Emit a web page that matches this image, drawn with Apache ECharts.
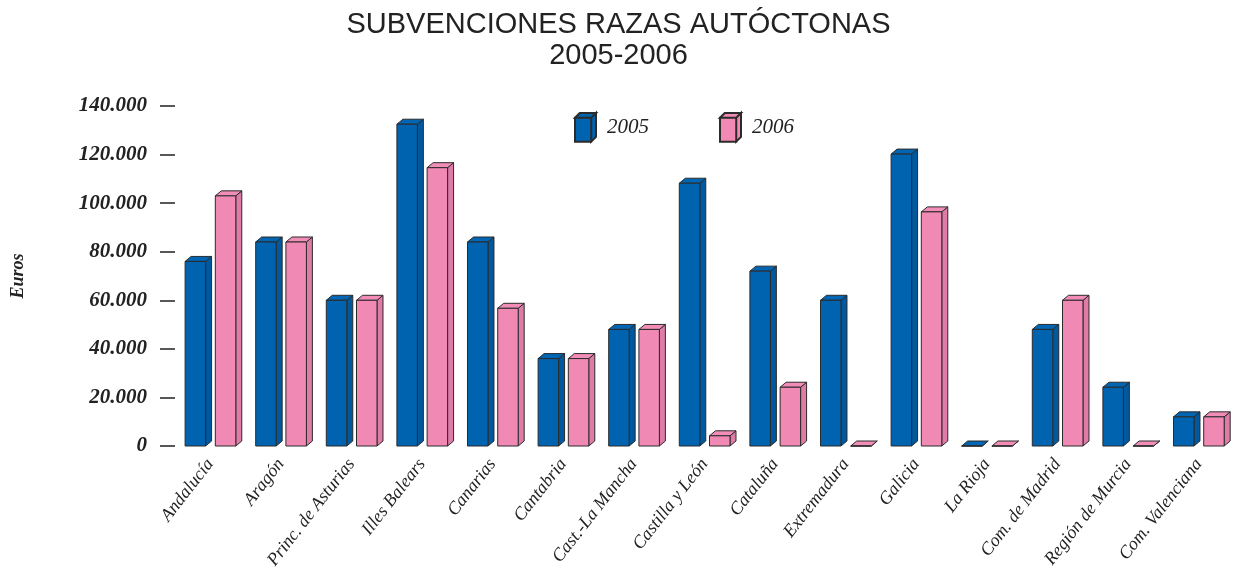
<!DOCTYPE html>
<html>
<head>
    <meta charset="utf-8">
    <title>Subvenciones razas autóctonas 2005-2006</title>
    <style>
        html, body { margin: 0; padding: 0; background: #fff; }
        #chart { width: 1237px; height: 569px; }
    </style>
</head>
<body>
<div id="chart"></div>

<script src="https://cdn.jsdelivr.net/npm/echarts@6/dist/echarts.min.js"></script>
<script>
    // datos
    var regiones = ['Andalucía', 'Aragón', 'Princ. de Asturias', 'Illes Balears', 'Canarias',
        'Cantabria', 'Cast.-La Mancha', 'Castilla y León', 'Cataluña', 'Extremadura',
        'Galicia', 'La Rioja', 'Com. de Madrid', 'Región de Murcia', 'Com. Valenciana'];
    var anios = ['2005', '2006'];
    var v2005 = [76000, 84000, 60000, 132500, 84000, 36000, 48000, 108200, 72000, 60000, 120200, 0, 48000, 24200, 12000];
    var v2006 = [103000, 84000, 60000, 114600, 56700, 36000, 48000, 4200, 24200, 0, 96400, 0, 60000, 0, 12000];
    var yTicks = [0, 20000, 40000, 60000, 80000, 100000, 120000, 140000];

    var colores = [
        { front: '#0063b0', top: '#0066b4', side: '#00589f' },
        { front: '#f189b5', top: '#f28db8', side: '#de7ca7' }
    ];
    var serif = '"Liberation Serif", "DejaVu Serif", serif';
    var boxIcon = 'path://M0 5 L17 5 L17 30 L0 30 Z M0 5 L5 0 L22 0 L17 5 Z M17 5 L22 0 L22 25 L17 30 Z';

    function fmtMiles(v) {
        return String(v).replace(/\B(?=(\d{3})+(?!\d))/g, '.');
    }

    // barra en 3D: cara frontal, tapa y lateral
    function makeRender(idx) {
        return function (params, api) {
            var cat = api.value(0);
            var top = api.coord([cat, api.value(1)]);
            var base = api.coord([cat, 0]);
            var bw = api.size([1, 0])[0];
            var w = bw * 0.29;
            var x = top[0] + (idx === 0 ? -0.357 * bw : 0.071 * bw);
            var y0 = base[1], y1 = top[1];
            var dx = 6, dy = 5;
            var c = colores[idx];
            var stroke = { stroke: '#2b2b2b', lineWidth: 1 };
            return {
                type: 'group',
                children: [
                    {
                        type: 'polygon',
                        shape: { points: [[x + w, y1], [x + w + dx, y1 - dy], [x + w + dx, y0 - dy], [x + w, y0]] },
                        style: Object.assign({ fill: c.side }, stroke)
                    },
                    {
                        type: 'polygon',
                        shape: { points: [[x, y1], [x + dx, y1 - dy], [x + w + dx, y1 - dy], [x + w, y1]] },
                        style: Object.assign({ fill: c.top }, stroke)
                    },
                    {
                        type: 'rect',
                        shape: { x: x, y: y1, width: w, height: y0 - y1 },
                        style: Object.assign({ fill: c.front }, stroke)
                    }
                ]
            };
        };
    }

    function serie(idx, vals) {
        return {
            name: anios[idx],
            type: 'custom',
            renderItem: makeRender(idx),
            itemStyle: { color: colores[idx].front, borderColor: '#2b2b2b', borderWidth: 1 },
            encode: { x: 0, y: 1 },
            data: vals.map(function (v, i) { return [i, v]; })
        };
    }

    var myChart = echarts.init(document.getElementById('chart'));

    var option = {
        backgroundColor: '#fff',
        animation: false,
        title: {
            text: 'SUBVENCIONES RAZAS AUTÓCTONAS\n2005-2006',
            left: 'center',
            top: 4,
            textStyle: {
                fontFamily: '"Liberation Sans", Arial, sans-serif',
                fontWeight: 'normal',
                fontSize: 29,
                lineHeight: 31,
                color: '#222'
            }
        },
        legend: {
            left: 569,
            top: 107,
            itemWidth: 21,
            itemHeight: 29,
            itemGap: 70,
            icon: boxIcon,
            data: anios,
            textStyle: {
                fontFamily: serif,
                fontStyle: 'italic',
                fontSize: 21,
                color: '#222',
                padding: [0, 0, 0, 6]
            }
        },
        grid: {
            left: 175,
            right: 3,
            top: 106,
            bottom: 123,
            outerBoundsMode: 'none'
        },
        xAxis: {
            type: 'category',
            data: regiones,
            axisLine: { show: false },
            axisTick: { show: false },
            axisLabel: {
                rotate: 52,
                margin: 15,
                interval: 0,
                fontFamily: serif,
                fontStyle: 'italic',
                fontSize: 18,
                color: '#222'
            }
        },
        yAxis: {
            type: 'value',
            min: yTicks[0],
            max: yTicks[yTicks.length - 1],
            interval: yTicks[1] - yTicks[0],
            name: 'Euros',
            nameLocation: 'middle',
            nameRotate: 90,
            nameGap: 148,
            nameTextStyle: {
                fontFamily: serif,
                fontStyle: 'italic',
                fontWeight: 'bold',
                fontSize: 18,
                color: '#222'
            },
            axisLine: { show: false },
            axisTick: { show: true, inside: false, length: 15, lineStyle: { color: '#222', width: 1.5 } },
            splitLine: { show: false },
            axisLabel: {
                margin: 28,
                formatter: fmtMiles,
                fontFamily: serif,
                fontStyle: 'italic',
                fontWeight: 'bold',
                fontSize: 21,
                color: '#222'
            }
        },
        series: [serie(0, v2005), serie(1, v2006)]
    };

    myChart.setOption(option);
</script>
</body>
</html>
